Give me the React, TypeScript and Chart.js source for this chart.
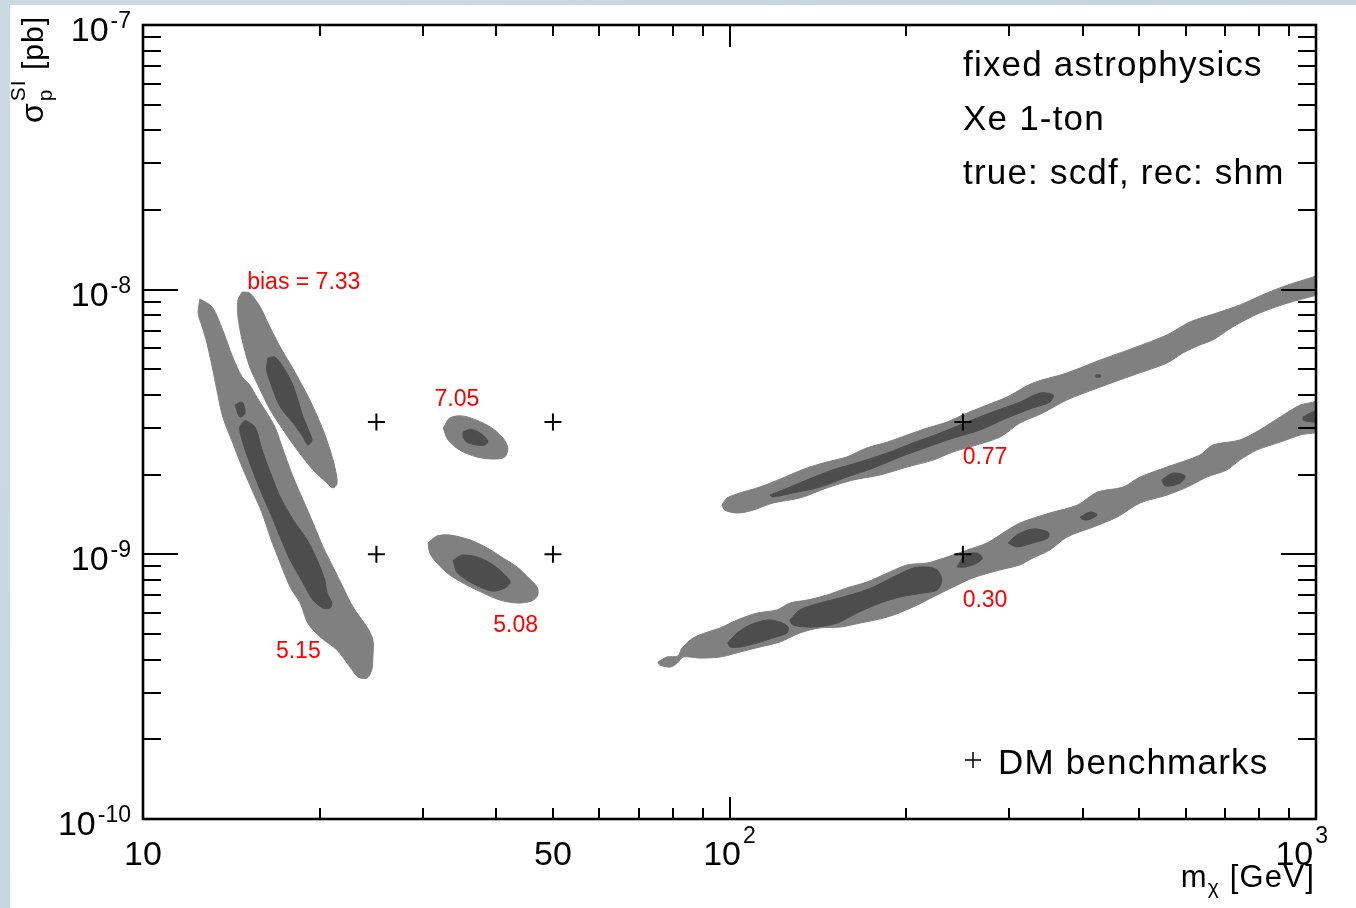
import React, { useEffect, useRef } from "react";
import { Chart, registerables } from "chart.js";

Chart.register(...registerables);

// ---------------- data ----------------
// axis ranges
const X_MIN = 10;
const X_MAX = 1000;
const Y_MIN = 1e-10;
const Y_MAX = 1e-7;

// tick values
const xMajorTicks = [10, 100, 1000];
const xMinorTicks = [20, 30, 40, 50, 60, 70, 80, 90, 200, 300, 400, 500, 600, 700, 800, 900];
const yMajorTicks = [1e-10, 1e-9, 1e-8, 1e-7];
const yMinorTicks = [
  2e-10, 3e-10, 4e-10, 5e-10, 6e-10, 7e-10, 8e-10, 9e-10,
  2e-9, 3e-9, 4e-9, 5e-9, 6e-9, 7e-9, 8e-9, 9e-9,
  2e-8, 3e-8, 4e-8, 5e-8, 6e-8, 7e-8, 8e-8, 9e-8,
];
// x tick labels: [value, base, exponent]
const xTickLabels: [number, string, string][] = [
  [10, "10", ""],
  [50, "50", ""],
  [100, "10", "2"],
  [1000, "10", "3"],
];
const yTickLabels: [number, string, string][] = [
  [1e-10, "10", "-10"],
  [1e-9, "10", "-9"],
  [1e-8, "10", "-8"],
  [1e-7, "10", "-7"],
];

// DM benchmarks (mass GeV, sigma pb)
const benchmarkMass = [25, 25, 50, 50, 250, 250];
const benchmarkSigma = [3.16e-9, 1e-9, 3.16e-9, 1e-9, 3.16e-9, 1e-9];

// bias labels: [text, mass, sigma]
const biasLabels: [string, number, number][] = [
  ["bias = 7.33", 18.8, 1.06e-8],
  ["7.05", 34.3, 3.83e-9],
  ["5.08", 43.2, 5.36e-10],
  ["5.15", 18.4, 4.28e-10],
  ["0.77", 272.7, 2.31e-9],
  ["0.30", 272.7, 6.71e-10],
];

const infoLines = ["fixed astrophysics", "Xe 1-ton", "true: scdf, rec: shm"];
const legendText = "DM benchmarks";

// Contours, vertices as [log10(mass/GeV), log10(sigma/pb)]
const L1_outer = [[1.097,-8.035],[1.118,-8.066],[1.136,-8.153],[1.153,-8.255],[1.169,-8.330],[1.182,-8.360],[1.194,-8.406],[1.208,-8.455],[1.225,-8.519],[1.239,-8.606],[1.256,-8.708],[1.273,-8.795],[1.290,-8.882],[1.307,-8.972],[1.324,-9.048],[1.341,-9.124],[1.358,-9.199],[1.382,-9.275],[1.392,-9.324],[1.392,-9.388],[1.390,-9.437],[1.382,-9.467],[1.367,-9.464],[1.353,-9.426],[1.331,-9.362],[1.302,-9.312],[1.281,-9.260],[1.268,-9.184],[1.251,-9.124],[1.234,-9.033],[1.217,-8.935],[1.203,-8.844],[1.186,-8.757],[1.169,-8.670],[1.153,-8.579],[1.136,-8.481],[1.126,-8.379],[1.118,-8.292],[1.109,-8.202],[1.101,-8.141],[1.094,-8.088]];
const L1_inner = [[1.174,-8.493],[1.191,-8.519],[1.203,-8.606],[1.220,-8.708],[1.234,-8.783],[1.256,-8.870],[1.280,-8.946],[1.297,-9.022],[1.310,-9.097],[1.314,-9.146],[1.322,-9.184],[1.319,-9.203],[1.307,-9.203],[1.290,-9.173],[1.273,-9.108],[1.251,-9.022],[1.234,-8.935],[1.217,-8.844],[1.200,-8.757],[1.182,-8.655],[1.169,-8.568],[1.165,-8.519]];
const L1_island = [[1.157,-8.436],[1.169,-8.425],[1.174,-8.466],[1.165,-8.481]];
const U1_outer = [[1.169,-8.009],[1.182,-8.013],[1.200,-8.066],[1.213,-8.126],[1.234,-8.217],[1.254,-8.292],[1.273,-8.368],[1.290,-8.443],[1.307,-8.530],[1.319,-8.606],[1.327,-8.670],[1.331,-8.731],[1.324,-8.749],[1.314,-8.731],[1.290,-8.681],[1.263,-8.606],[1.239,-8.530],[1.217,-8.455],[1.200,-8.379],[1.182,-8.292],[1.169,-8.190],[1.162,-8.103],[1.162,-8.039]];
const U1_inner = [[1.213,-8.258],[1.225,-8.255],[1.239,-8.292],[1.254,-8.353],[1.264,-8.417],[1.273,-8.481],[1.280,-8.519],[1.288,-8.568],[1.281,-8.587],[1.273,-8.557],[1.256,-8.504],[1.234,-8.443],[1.220,-8.368],[1.211,-8.304]];
const E1_outer = [[1.512,-8.523],[1.523,-8.485],[1.544,-8.477],[1.569,-8.493],[1.595,-8.523],[1.614,-8.561],[1.622,-8.598],[1.617,-8.632],[1.597,-8.640],[1.569,-8.632],[1.540,-8.606],[1.520,-8.568]];
const E1_inner = [[1.546,-8.538],[1.558,-8.527],[1.575,-8.542],[1.588,-8.572],[1.583,-8.587],[1.569,-8.587],[1.552,-8.576],[1.546,-8.557]];
const E2_outer = [[1.486,-8.957],[1.501,-8.931],[1.523,-8.927],[1.558,-8.946],[1.587,-8.976],[1.614,-9.014],[1.638,-9.048],[1.656,-9.086],[1.672,-9.124],[1.673,-9.154],[1.663,-9.176],[1.638,-9.184],[1.609,-9.173],[1.580,-9.146],[1.552,-9.116],[1.523,-9.078],[1.501,-9.033],[1.489,-8.995]];
const E2_inner = [[1.529,-9.022],[1.544,-9.003],[1.569,-9.010],[1.592,-9.033],[1.614,-9.071],[1.626,-9.105],[1.617,-9.127],[1.597,-9.139],[1.575,-9.124],[1.552,-9.097],[1.535,-9.067]];
const R1_outer = [[1.987,-8.814],[1.996,-8.787],[2.018,-8.768],[2.047,-8.749],[2.074,-8.727],[2.103,-8.700],[2.132,-8.674],[2.166,-8.651],[2.200,-8.632],[2.234,-8.598],[2.269,-8.576],[2.303,-8.549],[2.337,-8.523],[2.371,-8.500],[2.405,-8.466],[2.439,-8.436],[2.473,-8.406],[2.517,-8.353],[2.575,-8.315],[2.632,-8.266],[2.688,-8.221],[2.746,-8.171],[2.785,-8.122],[2.831,-8.088],[2.870,-8.058],[2.916,-8.013],[2.951,-7.983],[2.995,-7.952],[3.024,-7.926],[3.024,-8.001],[2.995,-8.024],[2.951,-8.051],[2.904,-8.088],[2.858,-8.141],[2.824,-8.190],[2.802,-8.209],[2.773,-8.239],[2.746,-8.277],[2.688,-8.323],[2.632,-8.368],[2.575,-8.417],[2.534,-8.466],[2.495,-8.504],[2.461,-8.557],[2.415,-8.591],[2.381,-8.613],[2.347,-8.644],[2.303,-8.670],[2.257,-8.700],[2.211,-8.719],[2.166,-8.749],[2.120,-8.787],[2.074,-8.806],[2.040,-8.833],[2.013,-8.844],[1.992,-8.833]];
const R1_inner = [[2.069,-8.776],[2.091,-8.757],[2.132,-8.719],[2.176,-8.681],[2.222,-8.651],[2.269,-8.617],[2.313,-8.579],[2.359,-8.542],[2.405,-8.500],[2.449,-8.462],[2.495,-8.425],[2.529,-8.391],[2.552,-8.398],[2.546,-8.425],[2.517,-8.447],[2.473,-8.485],[2.427,-8.530],[2.381,-8.561],[2.337,-8.595],[2.291,-8.632],[2.245,-8.674],[2.200,-8.708],[2.154,-8.746],[2.108,-8.768],[2.074,-8.783]];
const R1_dot = [[2.625,-8.322],[2.632,-8.322],[2.632,-8.330],[2.625,-8.330]];
const R2_outer = [[1.878,-9.407],[1.893,-9.388],[1.912,-9.384],[1.919,-9.354],[1.938,-9.316],[1.962,-9.294],[1.984,-9.278],[2.013,-9.248],[2.047,-9.222],[2.081,-9.210],[2.103,-9.184],[2.132,-9.173],[2.166,-9.154],[2.200,-9.127],[2.234,-9.105],[2.269,-9.071],[2.303,-9.040],[2.337,-9.033],[2.371,-9.010],[2.405,-8.984],[2.439,-8.957],[2.461,-8.927],[2.495,-8.882],[2.546,-8.844],[2.593,-8.814],[2.627,-8.765],[2.671,-8.746],[2.700,-8.708],[2.746,-8.670],[2.802,-8.625],[2.824,-8.587],[2.870,-8.568],[2.904,-8.530],[2.939,-8.481],[2.973,-8.436],[2.995,-8.425],[3.024,-8.406],[3.024,-8.530],[2.995,-8.542],[2.973,-8.549],[2.939,-8.576],[2.899,-8.606],[2.870,-8.644],[2.848,-8.681],[2.814,-8.708],[2.780,-8.746],[2.746,-8.776],[2.700,-8.806],[2.661,-8.859],[2.620,-8.897],[2.575,-8.935],[2.546,-8.984],[2.517,-9.014],[2.495,-9.040],[2.461,-9.059],[2.415,-9.089],[2.381,-9.124],[2.347,-9.161],[2.313,-9.199],[2.269,-9.237],[2.222,-9.260],[2.188,-9.275],[2.154,-9.278],[2.120,-9.297],[2.086,-9.331],[2.052,-9.350],[2.018,-9.369],[1.984,-9.388],[1.950,-9.392],[1.921,-9.388],[1.911,-9.411],[1.899,-9.426],[1.881,-9.418]];
const R2_blobA = [[1.997,-9.335],[2.013,-9.297],[2.035,-9.267],[2.064,-9.248],[2.086,-9.256],[2.100,-9.275],[2.098,-9.297],[2.074,-9.316],[2.047,-9.335],[2.018,-9.350],[2.001,-9.350]];
const R2_blobB = [[2.103,-9.248],[2.120,-9.210],[2.154,-9.184],[2.188,-9.165],[2.217,-9.146],[2.245,-9.124],[2.279,-9.086],[2.313,-9.052],[2.337,-9.048],[2.354,-9.059],[2.362,-9.097],[2.354,-9.135],[2.330,-9.146],[2.291,-9.161],[2.257,-9.184],[2.217,-9.222],[2.183,-9.260],[2.142,-9.275],[2.108,-9.267]];
const R2_blobC = [[2.388,-9.048],[2.402,-9.003],[2.422,-8.995],[2.431,-9.014],[2.422,-9.033],[2.402,-9.048]];
const R2_blobD = [[2.475,-8.957],[2.490,-8.927],[2.517,-8.904],[2.543,-8.916],[2.543,-8.938],[2.517,-8.957],[2.490,-8.972]];
const R2_blobE = [[2.598,-8.859],[2.615,-8.840],[2.627,-8.851],[2.611,-8.870],[2.601,-8.867]];
const R2_blobF = [[2.737,-8.719],[2.756,-8.693],[2.777,-8.704],[2.768,-8.731],[2.743,-8.742]];
const R2_blobG = [[2.978,-8.481],[2.995,-8.462],[3.015,-8.455],[3.015,-8.508],[2.995,-8.500],[2.978,-8.493]];

const outerContours = [L1_outer, U1_outer, E1_outer, E2_outer, R1_outer, R2_outer];
const innerContours = [L1_inner, L1_island, U1_inner, E1_inner, E2_inner, R1_inner, R1_dot, R2_blobA, R2_blobB, R2_blobC, R2_blobD, R2_blobE, R2_blobF, R2_blobG];

const OUTER_COLOR = "#808080";
const INNER_COLOR = "#4d4d4d";
const FONT = "'Liberation Sans', Arial, Helvetica, sans-serif";

// ---------------- helpers ----------------
function toPoints(arr: number[][]) {
  const pts = arr.map(([lm, ls]) => ({ x: Math.pow(10, lm), y: Math.pow(10, ls) }));
  pts.push({ ...pts[0] });
  return pts;
}

function contourDataset(arr: number[][], color: string, order: number, tension: number) {
  return {
    type: "line" as const,
    data: toPoints(arr),
    borderColor: color,
    backgroundColor: color,
    borderWidth: 1,
    pointRadius: 0,
    pointHoverRadius: 0,
    fill: "shape",
    tension,
    order,
  };
}

const BASE_PX = 34;
const EXP_PX = 23;

function drawPow(
  ctx: CanvasRenderingContext2D,
  base: string,
  exp: string,
  x: number,
  baseY: number,
  expY: number,
  align: "center" | "right" | "left",
  maxRight?: number
) {
  ctx.font = `${BASE_PX}px ${FONT}`;
  const wb = ctx.measureText(base).width;
  ctx.font = `${EXP_PX}px ${FONT}`;
  const we = exp ? ctx.measureText(exp).width + 2 : 0;
  const total = wb + we;
  let left = align === "center" ? x - total / 2 : align === "right" ? x - total : x;
  if (maxRight !== undefined && left + total > maxRight) left = maxRight - total;
  ctx.textAlign = "left";
  ctx.textBaseline = "alphabetic";
  ctx.font = `${BASE_PX}px ${FONT}`;
  ctx.fillText(base, left, baseY);
  if (exp) {
    ctx.font = `${EXP_PX}px ${FONT}`;
    ctx.fillText(exp, left + wb + 2, expY);
  }
}

const decorPlugin = {
  id: "rootDecor",
  afterDraw(chart: any) {
    const ctx: CanvasRenderingContext2D = chart.ctx;
    const { left: L, right: R, top: T, bottom: B } = chart.chartArea;
    const xs = chart.scales.x;
    const ys = chart.scales.y;
    ctx.save();
    ctx.fillStyle = "#000";
    ctx.strokeStyle = "#000";

    // ticks (inside, all four sides)
    ctx.lineWidth = 2;
    ctx.beginPath();
    for (const v of yMajorTicks) {
      const p = Math.round(ys.getPixelForValue(v));
      ctx.moveTo(L, p); ctx.lineTo(L + 35, p);
      ctx.moveTo(R, p); ctx.lineTo(R - 35, p);
    }
    for (const v of yMinorTicks) {
      const p = Math.round(ys.getPixelForValue(v));
      ctx.moveTo(L, p); ctx.lineTo(L + 18, p);
      ctx.moveTo(R, p); ctx.lineTo(R - 18, p);
    }
    for (const v of xMajorTicks) {
      const p = Math.round(xs.getPixelForValue(v));
      ctx.moveTo(p, B); ctx.lineTo(p, B - 22);
      ctx.moveTo(p, T); ctx.lineTo(p, T + 22);
    }
    for (const v of xMinorTicks) {
      const p = Math.round(xs.getPixelForValue(v));
      ctx.moveTo(p, B); ctx.lineTo(p, B - 11);
      ctx.moveTo(p, T); ctx.lineTo(p, T + 11);
    }
    ctx.stroke();

    // frame
    ctx.lineWidth = 2.6;
    ctx.strokeRect(L, T, R - L, B - T);

    // tick labels
    for (const [v, b, e] of yTickLabels) {
      const p = ys.getPixelForValue(v);
      drawPow(ctx, b, e, L - 12, p + 16, p + 3, "right");
    }
    for (const [v, b, e] of xTickLabels) {
      const p = xs.getPixelForValue(v);
      drawPow(ctx, b, e, p, B + 46, B + 24, "center", R + 12);
    }

    // x title  m_χ [GeV]
    {
      ctx.textBaseline = "alphabetic";
      ctx.textAlign = "left";
      const baseY = B + 68;
      ctx.font = `31px ${FONT}`;
      (ctx as any).letterSpacing = "1.2px";
      const wRest = ctx.measureText(" [GeV]").width;
      const wm = ctx.measureText("m").width;
      ctx.font = `21px ${FONT}`;
      const wc = ctx.measureText("χ").width;
      const right = R - 1;
      const x0 = right - wRest - wc - wm;
      ctx.font = `31px ${FONT}`;
      ctx.fillText("m", x0, baseY);
      ctx.font = `21px ${FONT}`;
      ctx.fillText("χ", x0 + wm, baseY + 7);
      ctx.font = `31px ${FONT}`;
      ctx.fillText(" [GeV]", x0 + wm + wc, baseY);
      (ctx as any).letterSpacing = "0px";
    }

    // y title  σ_p^SI [pb]  (rotated)
    {
      ctx.save();
      ctx.translate(L - 100, T + 98);
      ctx.rotate(-Math.PI / 2);
      ctx.textAlign = "left";
      ctx.textBaseline = "alphabetic";
      ctx.font = `32px ${FONT}`;
      (ctx as any).letterSpacing = "1px";
      const ws = ctx.measureText("σ").width;
      ctx.fillText("σ", 0, 0);
      ctx.font = `21px ${FONT}`;
      const wp = ctx.measureText("p").width;
      const wsi = ctx.measureText("SI").width;
      ctx.fillText("p", ws + 1, 9);
      ctx.fillText("SI", ws + 1, -18);
      ctx.font = `30px ${FONT}`;
      ctx.fillText(" [pb]", ws + Math.max(wp, wsi) + 1, 0);
      (ctx as any).letterSpacing = "0px";
      ctx.restore();
    }

    // info text
    ctx.font = `35px ${FONT}`;
    (ctx as any).letterSpacing = "1.2px";
    ctx.textAlign = "left";
    ctx.textBaseline = "alphabetic";
    infoLines.forEach((s, i) => {
      ctx.fillText(s, R - 353, T + 51 + i * 54);
    });

    // legend
    ctx.fillText(legendText, R - 318, B - 45);
    (ctx as any).letterSpacing = "0px";
    ctx.lineWidth = 1.5;
    ctx.beginPath();
    const cx = R - 343;
    const cy = B - 59;
    ctx.moveTo(cx - 8, cy); ctx.lineTo(cx + 8, cy);
    ctx.moveTo(cx, cy - 8); ctx.lineTo(cx, cy + 8);
    ctx.stroke();

    // bias labels (red)
    ctx.fillStyle = "#ff0000";
    ctx.font = `23px ${FONT}`;
    ctx.textAlign = "center";
    ctx.textBaseline = "middle";
    for (const [t, m, s] of biasLabels) {
      ctx.fillText(t, xs.getPixelForValue(m), ys.getPixelForValue(s));
    }
    ctx.restore();
  },
};

export default function App() {
  const ref = useRef<HTMLCanvasElement | null>(null);

  useEffect(() => {
    if (!ref.current) return;
    const datasets: any[] = [];
    outerContours.forEach((c) => datasets.push(contourDataset(c, OUTER_COLOR, 3, 0.3)));
    innerContours.forEach((c) => datasets.push(contourDataset(c, INNER_COLOR, 2, 0.3)));
    datasets.push({
      type: "line",
      data: benchmarkMass.map((m, i) => ({ x: m, y: benchmarkSigma[i] })),
      showLine: false,
      pointStyle: "cross",
      pointRadius: 8.5,
      pointHoverRadius: 8.5,
      pointBorderColor: "#000",
      pointBorderWidth: 2,
      borderColor: "#000",
      backgroundColor: "#000",
      fill: false,
      order: 1,
    });

    const chart = new Chart(ref.current, {
      type: "line",
      data: { datasets },
      options: {
        animation: false,
        responsive: false,
        maintainAspectRatio: false,
        devicePixelRatio: 1,
        events: [],
        layout: { padding: { left: 133, top: 20, right: 40, bottom: 89 } },
        plugins: {
          legend: { display: false },
          tooltip: { enabled: false },
          title: { display: false },
        },
        scales: {
          x: { type: "logarithmic", min: X_MIN, max: X_MAX, display: false },
          y: { type: "logarithmic", min: Y_MIN, max: Y_MAX, display: false },
        },
      },
      plugins: [decorPlugin],
    } as any);
    return () => chart.destroy();
  }, []);

  return (
    <div
      style={{
        position: "fixed",
        left: 0,
        top: 0,
        width: 1356,
        height: 908,
        background: "linear-gradient(135deg, #cbdae2 0%, #c6d6df 50%, #cfdde5 100%)",
        overflow: "hidden",
      }}
    >
      <canvas
        ref={ref}
        width={1346}
        height={903}
        style={{ position: "absolute", left: 10, top: 5, width: 1346, height: 903, background: "#ffffff" }}
      />
    </div>
  );
}
